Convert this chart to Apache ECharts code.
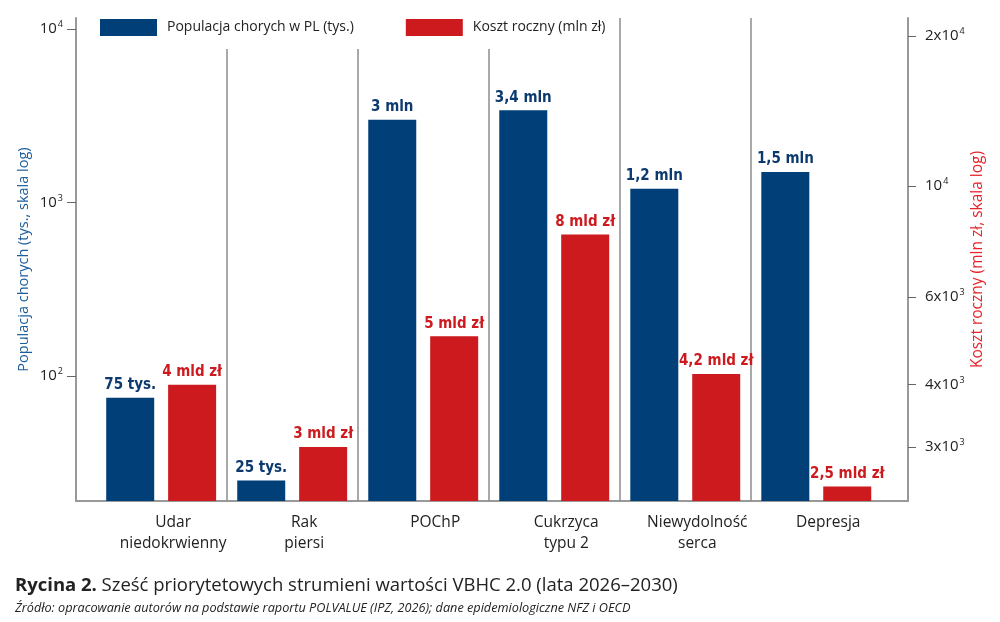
<!DOCTYPE html>
<html>
<head>
<meta charset="utf-8">
<script src="https://cdn.jsdelivr.net/npm/echarts@6/dist/echarts.min.js"></script>
<style>
  html, body { margin: 0; padding: 0; background: #fff; }
  #chart { width: 1000px; height: 622px; }
</style>
</head>
<body>
<div id="chart"></div>
<script>
var categories = ['Udar\nniedokrwienny', 'Rak\npiersi', 'POChP', 'Cukrzyca\ntypu 2', 'Niewydolność\nserca', 'Depresja'];
var populacja = [75, 25, 3000, 3400, 1200, 1500];           // tys.
var koszt = [4000, 3000, 5000, 8000, 4200, 2500];            // mln zł
var populacjaLabels = ['75 tys.', '25 tys.', '3 mln', '3,4 mln', '1,2 mln', '1,5 mln'];
var kosztLabels = ['4 mld zł', '3 mld zł', '5 mld zł', '8 mld zł', '4,2 mld zł', '2,5 mld zł'];
var leftTicks = [100, 1000, 10000];
var rightTicks = [3000, 4000, 6000, 10000, 20000];
var separators = [0.5, 1.5, 2.5, 3.5, 4.5];

var BLUE = '#003f78';
var RED = '#cc1a1e';
var FONT = "'Open Sans', 'Noto Sans', sans-serif";
var BOLD = "'Liberation Sans Narrow', 'DejaVu Sans Condensed', sans-serif";

var dom = document.getElementById('chart');
var myChart;

// 10^e zapis z indeksem górnym
function powLabel(v) {
    var e = Math.floor(Math.log10(v) + 1e-9);
    var m = Math.round(v / Math.pow(10, e));
    var head = m === 1 ? '' : m + 'x';
    return '{a|' + head + '10}{s|' + e + '}';
}

var supRich = {
    a: { fontFamily: FONT, fontSize: 15, color: '#222' },
    s: { fontFamily: FONT, fontSize: 9, color: '#222', padding: [0, 0, 9, 1] }
};

var option = {
    backgroundColor: '#fff',
    animation: false,
    textStyle: { fontFamily: FONT },
    title: {
        left: 10,
        top: 571,
        itemGap: 7,
        text: '{b|Rycina 2.} {r|Sześć priorytetowych strumieni wartości VBHC 2.0 (lata 2026–2030)}',
        textStyle: {
            fontWeight: 'normal',
            rich: {
                b: { fontFamily: FONT, fontSize: 18.5, fontWeight: 'bold', color: '#222' },
                r: { fontFamily: FONT, fontSize: 18.5, fontWeight: 'normal', color: '#222' }
            }
        },
        subtext: 'Źródło: opracowanie autorów na podstawie raportu POLVALUE (IPZ, 2026); dane epidemiologiczne NFZ i OECD',
        subtextStyle: { fontFamily: FONT, fontSize: 12.7, fontStyle: 'italic', color: '#222' }
    },
    legend: {
        left: 90,
        top: 12,
        z: 10,
        padding: [7, 12, 13, 10],
        backgroundColor: '#fff',
        icon: 'rect',
        itemWidth: 57,
        itemHeight: 17,
        itemGap: 52,
        textStyle: { fontFamily: FONT, fontSize: 14, color: '#222', padding: [0, 0, 0, 5] },
        data: ['Populacja chorych w PL (tys.)', 'Koszt roczny (mln zł)']
    },
    grid: { left: 76, right: 92, top: 18, bottom: 121 },
    xAxis: {
        type: 'value',
        min: -0.65,
        max: 5.7,
        splitLine: { show: false },
        axisTick: { show: false },
        axisLine: { show: true, onZero: false, lineStyle: { color: '#999', width: 2 } },
        axisLabel: {
            customValues: [0, 1, 2, 3, 4, 5],
            formatter: function (v) { return categories[Math.round(v)] || ''; },
            fontFamily: FONT,
            fontSize: 15.5,
            lineHeight: 21,
            color: '#222',
            margin: 11,
            padding: [0, 0, 0, 24]
        }
    },
    yAxis: [
        {
            type: 'log',
            logBase: 10,
            min: 19.03,
            max: 11570,
            position: 'left',
            name: 'Populacja chorych (tys., skala log)',
            nameLocation: 'middle',
            nameRotate: 90,
            nameGap: 45,
            nameMoveOverlap: false,
            nameTextStyle: { fontFamily: FONT, fontSize: 14.5, color: '#1b5c9c' },
            splitLine: { show: false },
            axisLine: { show: true, onZero: false, lineStyle: { color: '#999', width: 2 } },
            axisTick: { show: true, customValues: leftTicks, length: 9, lineStyle: { color: '#666' } },
            axisLabel: { customValues: leftTicks, formatter: powLabel, rich: supRich, margin: 13 }
        },
        {
            type: 'log',
            logBase: 10,
            min: 2338,
            max: 21735,
            position: 'right',
            name: 'Koszt roczny (mln zł, skala log)',
            nameLocation: 'middle',
            nameRotate: 90,
            nameGap: 62,
            nameMoveOverlap: false,
            nameTextStyle: { fontFamily: FONT, fontSize: 15.5, color: '#e5252b' },
            splitLine: { show: false },
            axisLine: { show: true, onZero: false, lineStyle: { color: '#999', width: 2 } },
            axisTick: { show: true, customValues: rightTicks, length: 8, lineStyle: { color: '#666' } },
            axisLabel: { customValues: rightTicks, formatter: powLabel, rich: supRich, margin: 17 }
        }
    ],
    series: [
        {
            name: 'Populacja chorych w PL (tys.)',
            type: 'bar',
            yAxisIndex: 0,
            barWidth: 48,
            barGap: '29%',
            itemStyle: { color: BLUE },
            data: populacja.map(function (v, i) { return [i, v]; }),
            label: {
                show: true,
                position: 'top',
                distance: 5,
                formatter: function (p) { return populacjaLabels[p.dataIndex]; },
                fontFamily: BOLD,
                fontWeight: 'bold',
                fontSize: 15,
                color: '#0d3a6e'
            }
        },
        {
            name: 'Koszt roczny (mln zł)',
            type: 'bar',
            yAxisIndex: 1,
            barWidth: 48,
            barGap: '29%',
            itemStyle: { color: RED },
            data: koszt.map(function (v, i) { return [i, v]; }),
            label: {
                show: true,
                position: 'top',
                distance: 5,
                formatter: function (p) { return kosztLabels[p.dataIndex]; },
                fontFamily: BOLD,
                fontWeight: 'bold',
                fontSize: 15,
                color: RED
            }
        },
        {
            // pionowe linie oddzielające grupy (pod legendą)
            name: 'separatory',
            type: 'line',
            yAxisIndex: 0,
            data: [],
            z: 1,
            markLine: {
                silent: true,
                z: 1,
                symbol: 'none',
                label: { show: false },
                lineStyle: { color: '#8c8c8c', type: 'solid', width: 1.5 },
                data: separators.map(function (v) { return { xAxis: v }; })
            }
        }
    ]
};

myChart = echarts.init(dom);
if (option && typeof option === 'object') {
    myChart.setOption(option, true);
}
</script>
</body>
</html>
